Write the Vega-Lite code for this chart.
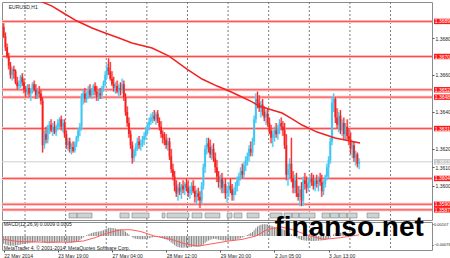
{
"$schema":"https://vega.github.io/schema/vega-lite/v6.json",
"padding":{"left":0,"top":1,"right":0,"bottom":0},
"background":"white",
"bounds":"flush",
"spacing":2,
"resolve":{"scale":{"x":"independent","y":"independent"}},
"config":{"view":{"stroke":"#8c8c8c","strokeWidth":1},"axis":{"labelFont":"Liberation Sans"},"text":{"font":"Liberation Sans"},"scale":{"continuousPadding":0}},
"datasets":{
"bars":[
{"t":1,"o":1.3686,"h":1.3688,"l":1.3680,"c":1.3681,"m":-0.0007},
{"t":2,"o":1.3681,"h":1.3683,"l":1.3673,"c":1.3675,"m":-0.00075},
{"t":3,"o":1.3675,"h":1.3677,"l":1.3669,"c":1.3670,"m":-0.0008},
{"t":4,"o":1.3670,"h":1.3672,"l":1.3663,"c":1.3665,"m":-0.00085},
{"t":5,"o":1.3665,"h":1.3667,"l":1.3658,"c":1.3660,"m":-0.00088},
{"t":6,"o":1.3660,"h":1.3664,"l":1.3657,"c":1.3663,"m":-0.00088},
{"t":7,"o":1.3663,"h":1.3665,"l":1.3658,"c":1.3662,"m":-0.00086},
{"t":8,"o":1.3662,"h":1.3663,"l":1.3655,"c":1.3656,"m":-0.00084},
{"t":9,"o":1.3656,"h":1.3659,"l":1.3652,"c":1.3654,"m":-0.00082},
{"t":10,"o":1.3654,"h":1.3657,"l":1.3652,"c":1.3655,"m":-0.0008},
{"t":11,"o":1.3655,"h":1.3660,"l":1.3653,"c":1.3659,"m":-0.00077},
{"t":12,"o":1.3659,"h":1.3661,"l":1.3654,"c":1.3656,"m":-0.00074},
{"t":13,"o":1.3656,"h":1.3658,"l":1.3650,"c":1.3652,"m":-0.00072},
{"t":14,"o":1.3652,"h":1.3654,"l":1.3648,"c":1.3651,"m":-0.0007},
{"t":15,"o":1.3651,"h":1.3655,"l":1.3649,"c":1.3653,"m":-0.00067},
{"t":16,"o":1.3653,"h":1.3655,"l":1.3648,"c":1.3650,"m":-0.00064},
{"t":17,"o":1.3650,"h":1.3653,"l":1.3646,"c":1.3652,"m":-0.00061},
{"t":18,"o":1.3652,"h":1.3656,"l":1.3650,"c":1.3655,"m":-0.00058},
{"t":19,"o":1.3655,"h":1.3657,"l":1.3651,"c":1.3652,"m":-0.00055},
{"t":20,"o":1.3652,"h":1.3655,"l":1.3647,"c":1.3649,"m":-0.00053},
{"t":21,"o":1.3649,"h":1.3653,"l":1.3647,"c":1.3651,"m":-0.0005},
{"t":22,"o":1.3651,"h":1.3654,"l":1.3648,"c":1.3650,"m":-0.00048},
{"t":23,"o":1.3650,"h":1.3652,"l":1.3644,"c":1.3646,"m":-0.00047},
{"t":24,"o":1.3646,"h":1.3648,"l":1.3618,"c":1.3622,"m":-0.00055},
{"t":25,"o":1.3622,"h":1.3630,"l":1.3620,"c":1.3628,"m":-0.0006},
{"t":26,"o":1.3628,"h":1.3632,"l":1.3623,"c":1.3625,"m":-0.00063},
{"t":27,"o":1.3625,"h":1.3633,"l":1.3623,"c":1.3631,"m":-0.00064},
{"t":28,"o":1.3631,"h":1.3635,"l":1.3628,"c":1.3633,"m":-0.00064},
{"t":29,"o":1.3633,"h":1.3636,"l":1.3629,"c":1.3630,"m":-0.00063},
{"t":30,"o":1.3630,"h":1.3634,"l":1.3627,"c":1.3632,"m":-0.00062},
{"t":31,"o":1.3632,"h":1.3635,"l":1.3628,"c":1.3629,"m":-0.0006},
{"t":32,"o":1.3629,"h":1.3633,"l":1.3627,"c":1.3632,"m":-0.00058},
{"t":33,"o":1.3632,"h":1.3636,"l":1.3630,"c":1.3634,"m":-0.00056},
{"t":34,"o":1.3634,"h":1.3637,"l":1.3631,"c":1.3636,"m":-0.00053},
{"t":35,"o":1.3636,"h":1.3638,"l":1.3630,"c":1.3632,"m":-0.00051},
{"t":36,"o":1.3632,"h":1.3636,"l":1.3629,"c":1.3634,"m":-0.0005},
{"t":37,"o":1.3634,"h":1.3636,"l":1.3626,"c":1.3628,"m":-0.00051},
{"t":38,"o":1.3628,"h":1.3630,"l":1.3620,"c":1.3622,"m":-0.00054},
{"t":39,"o":1.3622,"h":1.3626,"l":1.3619,"c":1.3624,"m":-0.00057},
{"t":40,"o":1.3624,"h":1.3626,"l":1.3618,"c":1.3620,"m":-0.00059},
{"t":41,"o":1.3620,"h":1.3623,"l":1.3617,"c":1.3621,"m":-0.0006},
{"t":42,"o":1.3621,"h":1.3624,"l":1.3618,"c":1.3619,"m":-0.00058},
{"t":43,"o":1.3619,"h":1.3624,"l":1.3618,"c":1.3623,"m":-0.00055},
{"t":44,"o":1.3623,"h":1.3627,"l":1.3621,"c":1.3626,"m":-0.0005},
{"t":45,"o":1.3626,"h":1.3631,"l":1.3624,"c":1.3630,"m":-0.00044},
{"t":46,"o":1.3630,"h":1.3634,"l":1.3627,"c":1.3632,"m":-0.00038},
{"t":47,"o":1.3632,"h":1.3650,"l":1.3630,"c":1.3648,"m":-0.00025},
{"t":48,"o":1.3648,"h":1.3652,"l":1.3644,"c":1.3650,"m":-0.00013},
{"t":49,"o":1.3650,"h":1.3653,"l":1.3645,"c":1.3647,"m":-0.00003},
{"t":50,"o":1.3647,"h":1.3651,"l":1.3645,"c":1.3650,"m":0.00006},
{"t":51,"o":1.3650,"h":1.3654,"l":1.3647,"c":1.3652,"m":0.00014},
{"t":52,"o":1.3652,"h":1.3655,"l":1.3648,"c":1.3649,"m":0.0002},
{"t":53,"o":1.3649,"h":1.3653,"l":1.3647,"c":1.3652,"m":0.00026},
{"t":54,"o":1.3652,"h":1.3655,"l":1.3649,"c":1.3654,"m":0.00032},
{"t":55,"o":1.3654,"h":1.3656,"l":1.3649,"c":1.3651,"m":0.00036},
{"t":56,"o":1.3651,"h":1.3654,"l":1.3646,"c":1.3648,"m":0.00038},
{"t":57,"o":1.3648,"h":1.3652,"l":1.3646,"c":1.3650,"m":0.0004},
{"t":58,"o":1.3650,"h":1.3653,"l":1.3647,"c":1.3649,"m":0.00042},
{"t":59,"o":1.3649,"h":1.3654,"l":1.3647,"c":1.3653,"m":0.00046},
{"t":60,"o":1.3653,"h":1.3657,"l":1.3651,"c":1.3656,"m":0.00052},
{"t":61,"o":1.3656,"h":1.3662,"l":1.3654,"c":1.3660,"m":0.0006},
{"t":62,"o":1.3660,"h":1.3666,"l":1.3658,"c":1.3664,"m":0.00068},
{"t":63,"o":1.3664,"h":1.3669,"l":1.3660,"c":1.3662,"m":0.00073},
{"t":64,"o":1.3662,"h":1.3667,"l":1.3657,"c":1.3658,"m":0.00074},
{"t":65,"o":1.3658,"h":1.3662,"l":1.3654,"c":1.3655,"m":0.00072},
{"t":66,"o":1.3655,"h":1.3659,"l":1.3651,"c":1.3653,"m":0.00069},
{"t":67,"o":1.3653,"h":1.3656,"l":1.3650,"c":1.3654,"m":0.00066},
{"t":68,"o":1.3654,"h":1.3657,"l":1.3650,"c":1.3651,"m":0.00063},
{"t":69,"o":1.3651,"h":1.3655,"l":1.3648,"c":1.3653,"m":0.0006},
{"t":70,"o":1.3653,"h":1.3656,"l":1.3649,"c":1.3652,"m":0.00058},
{"t":71,"o":1.3652,"h":1.3658,"l":1.3650,"c":1.3655,"m":0.00055},
{"t":72,"o":1.3655,"h":1.3657,"l":1.3646,"c":1.3648,"m":0.00048},
{"t":73,"o":1.3648,"h":1.3650,"l":1.3638,"c":1.3640,"m":0.00038},
{"t":74,"o":1.3640,"h":1.3643,"l":1.3632,"c":1.3634,"m":0.00026},
{"t":75,"o":1.3634,"h":1.3637,"l":1.3626,"c":1.3628,"m":0.00014},
{"t":76,"o":1.3628,"h":1.3630,"l":1.3620,"c":1.3622,"m":0.00001},
{"t":77,"o":1.3622,"h":1.3624,"l":1.3612,"c":1.3615,"m":-0.00012},
{"t":78,"o":1.3615,"h":1.3620,"l":1.3613,"c":1.3619,"m":-0.0002},
{"t":79,"o":1.3619,"h":1.3623,"l":1.3616,"c":1.3621,"m":-0.00024},
{"t":80,"o":1.3621,"h":1.3626,"l":1.3619,"c":1.3624,"m":-0.00027},
{"t":81,"o":1.3624,"h":1.3627,"l":1.3620,"c":1.3622,"m":-0.00029},
{"t":82,"o":1.3622,"h":1.3625,"l":1.3619,"c":1.3623,"m":-0.0003},
{"t":83,"o":1.3623,"h":1.3627,"l":1.3621,"c":1.3625,"m":-0.0003},
{"t":84,"o":1.3625,"h":1.3629,"l":1.3622,"c":1.3627,"m":-0.00029},
{"t":85,"o":1.3627,"h":1.3632,"l":1.3625,"c":1.3630,"m":-0.00027},
{"t":86,"o":1.3630,"h":1.3634,"l":1.3628,"c":1.3633,"m":-0.00024},
{"t":87,"o":1.3633,"h":1.3637,"l":1.3630,"c":1.3635,"m":-0.0002},
{"t":88,"o":1.3635,"h":1.3639,"l":1.3633,"c":1.3637,"m":-0.00016},
{"t":89,"o":1.3637,"h":1.3640,"l":1.3634,"c":1.3638,"m":-0.00012},
{"t":90,"o":1.3638,"h":1.3641,"l":1.3635,"c":1.3636,"m":-0.00009},
{"t":91,"o":1.3636,"h":1.3640,"l":1.3633,"c":1.3639,"m":-0.00007},
{"t":92,"o":1.3639,"h":1.3641,"l":1.3634,"c":1.3635,"m":-0.00007},
{"t":93,"o":1.3635,"h":1.3637,"l":1.3630,"c":1.3632,"m":-0.0001},
{"t":94,"o":1.3632,"h":1.3635,"l":1.3626,"c":1.3628,"m":-0.00015},
{"t":95,"o":1.3628,"h":1.3630,"l":1.3623,"c":1.3626,"m":-0.0002},
{"t":96,"o":1.3626,"h":1.3629,"l":1.3622,"c":1.3625,"m":-0.00026},
{"t":97,"o":1.3625,"h":1.3628,"l":1.3620,"c":1.3622,"m":-0.00032},
{"t":98,"o":1.3622,"h":1.3626,"l":1.3619,"c":1.3624,"m":-0.00038},
{"t":99,"o":1.3624,"h":1.3626,"l":1.3614,"c":1.3616,"m":-0.00047},
{"t":100,"o":1.3616,"h":1.3620,"l":1.3607,"c":1.3609,"m":-0.00058},
{"t":101,"o":1.3609,"h":1.3612,"l":1.3603,"c":1.3605,"m":-0.0007},
{"t":102,"o":1.3605,"h":1.3608,"l":1.3597,"c":1.3600,"m":-0.00082},
{"t":103,"o":1.3600,"h":1.3603,"l":1.3594,"c":1.3596,"m":-0.00092},
{"t":104,"o":1.3596,"h":1.3601,"l":1.3592,"c":1.3599,"m":-0.00098},
{"t":105,"o":1.3599,"h":1.3602,"l":1.3595,"c":1.3597,"m":-0.00102},
{"t":106,"o":1.3597,"h":1.3601,"l":1.3593,"c":1.3600,"m":-0.00104},
{"t":107,"o":1.3600,"h":1.3603,"l":1.3596,"c":1.3598,"m":-0.00104},
{"t":108,"o":1.3598,"h":1.3602,"l":1.3595,"c":1.3601,"m":-0.00103},
{"t":109,"o":1.3601,"h":1.3604,"l":1.3597,"c":1.3599,"m":-0.00102},
{"t":110,"o":1.3599,"h":1.3603,"l":1.3594,"c":1.3596,"m":-0.00101},
{"t":111,"o":1.3596,"h":1.3600,"l":1.3593,"c":1.3598,"m":-0.001},
{"t":112,"o":1.3598,"h":1.3602,"l":1.3595,"c":1.3600,"m":-0.00098},
{"t":113,"o":1.3600,"h":1.3603,"l":1.3596,"c":1.3597,"m":-0.00096},
{"t":114,"o":1.3597,"h":1.3600,"l":1.3591,"c":1.3594,"m":-0.00096},
{"t":115,"o":1.3594,"h":1.3598,"l":1.3590,"c":1.3596,"m":-0.00095},
{"t":116,"o":1.3596,"h":1.3599,"l":1.3592,"c":1.3594,"m":-0.00094},
{"t":117,"o":1.3594,"h":1.3597,"l":1.3588,"c":1.3592,"m":-0.00094},
{"t":118,"o":1.3592,"h":1.3602,"l":1.3590,"c":1.3600,"m":-0.00087},
{"t":119,"o":1.3600,"h":1.3612,"l":1.3598,"c":1.3610,"m":-0.00076},
{"t":120,"o":1.3610,"h":1.3622,"l":1.3607,"c":1.3620,"m":-0.00062},
{"t":121,"o":1.3620,"h":1.3626,"l":1.3617,"c":1.3623,"m":-0.0005},
{"t":122,"o":1.3623,"h":1.3626,"l":1.3618,"c":1.3621,"m":-0.0004},
{"t":123,"o":1.3621,"h":1.3625,"l":1.3615,"c":1.3617,"m":-0.00034},
{"t":124,"o":1.3617,"h":1.3622,"l":1.3614,"c":1.3620,"m":-0.00028},
{"t":125,"o":1.3620,"h":1.3623,"l":1.3613,"c":1.3615,"m":-0.00025},
{"t":126,"o":1.3615,"h":1.3618,"l":1.3607,"c":1.3610,"m":-0.00026},
{"t":127,"o":1.3610,"h":1.3614,"l":1.3602,"c":1.3605,"m":-0.0003},
{"t":128,"o":1.3605,"h":1.3608,"l":1.3599,"c":1.3602,"m":-0.00034},
{"t":129,"o":1.3602,"h":1.3606,"l":1.3598,"c":1.3604,"m":-0.00036},
{"t":130,"o":1.3604,"h":1.3607,"l":1.3596,"c":1.3599,"m":-0.00038},
{"t":131,"o":1.3599,"h":1.3603,"l":1.3596,"c":1.3601,"m":-0.0004},
{"t":132,"o":1.3601,"h":1.3604,"l":1.3593,"c":1.3596,"m":-0.00042},
{"t":133,"o":1.3596,"h":1.3600,"l":1.3591,"c":1.3598,"m":-0.00043},
{"t":134,"o":1.3598,"h":1.3602,"l":1.3594,"c":1.3600,"m":-0.00042},
{"t":135,"o":1.3600,"h":1.3604,"l":1.3596,"c":1.3598,"m":-0.00041},
{"t":136,"o":1.3598,"h":1.3601,"l":1.3592,"c":1.3595,"m":-0.0004},
{"t":137,"o":1.3595,"h":1.3599,"l":1.3592,"c":1.3597,"m":-0.00038},
{"t":138,"o":1.3597,"h":1.3602,"l":1.3595,"c":1.3600,"m":-0.00035},
{"t":139,"o":1.3600,"h":1.3605,"l":1.3597,"c":1.3603,"m":-0.0003},
{"t":140,"o":1.3603,"h":1.3607,"l":1.3600,"c":1.3605,"m":-0.00025},
{"t":141,"o":1.3605,"h":1.3610,"l":1.3603,"c":1.3608,"m":-0.00019},
{"t":142,"o":1.3608,"h":1.3612,"l":1.3604,"c":1.3606,"m":-0.00013},
{"t":143,"o":1.3606,"h":1.3613,"l":1.3604,"c":1.3611,"m":-0.00006},
{"t":144,"o":1.3611,"h":1.3616,"l":1.3608,"c":1.3614,"m":0.00002},
{"t":145,"o":1.3614,"h":1.3618,"l":1.3611,"c":1.3616,"m":0.0001},
{"t":146,"o":1.3616,"h":1.3622,"l":1.3613,"c":1.3620,"m":0.00018},
{"t":147,"o":1.3620,"h":1.3624,"l":1.3616,"c":1.3618,"m":0.00026},
{"t":148,"o":1.3618,"h":1.3626,"l":1.3616,"c":1.3624,"m":0.00036},
{"t":149,"o":1.3624,"h":1.3638,"l":1.3622,"c":1.3636,"m":0.00052},
{"t":150,"o":1.3636,"h":1.3650,"l":1.3634,"c":1.3647,"m":0.0007},
{"t":151,"o":1.3647,"h":1.3651,"l":1.3642,"c":1.3645,"m":0.00084},
{"t":152,"o":1.3645,"h":1.3649,"l":1.3640,"c":1.3642,"m":0.00094},
{"t":153,"o":1.3642,"h":1.3646,"l":1.3637,"c":1.3644,"m":0.00101},
{"t":154,"o":1.3644,"h":1.3647,"l":1.3638,"c":1.3640,"m":0.00105},
{"t":155,"o":1.3640,"h":1.3643,"l":1.3635,"c":1.3637,"m":0.00106},
{"t":156,"o":1.3637,"h":1.3641,"l":1.3633,"c":1.3639,"m":0.00105},
{"t":157,"o":1.3639,"h":1.3642,"l":1.3632,"c":1.3634,"m":0.00102},
{"t":158,"o":1.3634,"h":1.3637,"l":1.3628,"c":1.3630,"m":0.00098},
{"t":159,"o":1.3630,"h":1.3633,"l":1.3623,"c":1.3626,"m":0.00092},
{"t":160,"o":1.3626,"h":1.3630,"l":1.3621,"c":1.3628,"m":0.00086},
{"t":161,"o":1.3628,"h":1.3632,"l":1.3624,"c":1.3630,"m":0.0008},
{"t":162,"o":1.3630,"h":1.3634,"l":1.3626,"c":1.3628,"m":0.00075},
{"t":163,"o":1.3628,"h":1.3633,"l":1.3625,"c":1.3631,"m":0.00071},
{"t":164,"o":1.3631,"h":1.3636,"l":1.3628,"c":1.3634,"m":0.00068},
{"t":165,"o":1.3634,"h":1.3637,"l":1.3630,"c":1.3632,"m":0.00064},
{"t":166,"o":1.3632,"h":1.3635,"l":1.3627,"c":1.3630,"m":0.0006},
{"t":167,"o":1.3630,"h":1.3634,"l":1.3620,"c":1.3622,"m":0.00054},
{"t":168,"o":1.3622,"h":1.3628,"l":1.3603,"c":1.3606,"m":0.00044},
{"t":169,"o":1.3606,"h":1.3612,"l":1.3600,"c":1.3609,"m":0.00034},
{"t":170,"o":1.3609,"h":1.3615,"l":1.3604,"c":1.3612,"m":0.00026},
{"t":171,"o":1.3612,"h":1.3626,"l":1.3602,"c":1.3604,"m":0.00016},
{"t":172,"o":1.3604,"h":1.3608,"l":1.3596,"c":1.3599,"m":0.00005},
{"t":173,"o":1.3599,"h":1.3606,"l":1.3596,"c":1.3603,"m":-0.00005},
{"t":174,"o":1.3603,"h":1.3607,"l":1.3594,"c":1.3596,"m":-0.00014},
{"t":175,"o":1.3596,"h":1.3600,"l":1.3592,"c":1.3594,"m":-0.00022},
{"t":176,"o":1.3594,"h":1.3600,"l":1.3589,"c":1.3598,"m":-0.00028},
{"t":177,"o":1.3598,"h":1.3602,"l":1.3589,"c":1.3592,"m":-0.00036},
{"t":178,"o":1.3592,"h":1.3605,"l":1.3589,"c":1.3603,"m":-0.00038},
{"t":179,"o":1.3603,"h":1.3607,"l":1.3598,"c":1.3601,"m":-0.0004},
{"t":180,"o":1.3601,"h":1.3605,"l":1.3596,"c":1.3599,"m":-0.00042},
{"t":181,"o":1.3599,"h":1.3604,"l":1.3597,"c":1.3602,"m":-0.00043},
{"t":182,"o":1.3602,"h":1.3606,"l":1.3599,"c":1.3604,"m":-0.00044},
{"t":183,"o":1.3604,"h":1.3607,"l":1.3600,"c":1.3602,"m":-0.00044},
{"t":184,"o":1.3602,"h":1.3606,"l":1.3598,"c":1.3600,"m":-0.00044},
{"t":185,"o":1.3600,"h":1.3604,"l":1.3597,"c":1.3603,"m":-0.00044},
{"t":186,"o":1.3603,"h":1.3606,"l":1.3599,"c":1.3601,"m":-0.00043},
{"t":187,"o":1.3601,"h":1.3605,"l":1.3597,"c":1.3604,"m":-0.00042},
{"t":188,"o":1.3604,"h":1.3607,"l":1.3600,"c":1.3602,"m":-0.00041},
{"t":189,"o":1.3602,"h":1.3606,"l":1.3594,"c":1.3597,"m":-0.0004},
{"t":190,"o":1.3597,"h":1.3603,"l":1.3595,"c":1.3601,"m":-0.00038},
{"t":191,"o":1.3601,"h":1.3606,"l":1.3599,"c":1.3605,"m":-0.00035},
{"t":192,"o":1.3605,"h":1.3612,"l":1.3603,"c":1.3610,"m":-0.0003},
{"t":193,"o":1.3610,"h":1.3616,"l":1.3604,"c":1.3614,"m":-0.00024},
{"t":194,"o":1.3614,"h":1.3626,"l":1.3612,"c":1.3624,"m":-0.00014},
{"t":195,"o":1.3624,"h":1.3648,"l":1.3622,"c":1.3645,"m":0.00002},
{"t":196,"o":1.3645,"h":1.3650,"l":1.3640,"c":1.3647,"m":0.00016},
{"t":197,"o":1.3647,"h":1.3648,"l":1.3634,"c":1.3637,"m":0.00024},
{"t":198,"o":1.3637,"h":1.3642,"l":1.3631,"c":1.3633,"m":0.00028},
{"t":199,"o":1.3633,"h":1.3640,"l":1.3629,"c":1.3638,"m":0.0003},
{"t":200,"o":1.3638,"h":1.3641,"l":1.3628,"c":1.3630,"m":0.0003},
{"t":201,"o":1.3630,"h":1.3636,"l":1.3627,"c":1.3634,"m":0.00029},
{"t":202,"o":1.3634,"h":1.3637,"l":1.3625,"c":1.3628,"m":0.00027},
{"t":203,"o":1.3628,"h":1.3634,"l":1.3625,"c":1.3632,"m":0.00025},
{"t":204,"o":1.3632,"h":1.3636,"l":1.3625,"c":1.3627,"m":0.00022},
{"t":205,"o":1.3627,"h":1.3631,"l":1.3622,"c":1.3625,"m":0.00019},
{"t":206,"o":1.3625,"h":1.3629,"l":1.3617,"c":1.3620,"m":0.00015},
{"t":207,"o":1.3620,"h":1.3624,"l":1.3615,"c":1.3622,"m":0.00011},
{"t":208,"o":1.3622,"h":1.3624,"l":1.3613,"c":1.3615,"m":0.00007},
{"t":209,"o":1.3615,"h":1.3619,"l":1.3611,"c":1.3617,"m":0.00004},
{"t":210,"o":1.3617,"h":1.3618,"l":1.3610,"c":1.3612,"m":0.0},
{"t":211,"o":1.3612,"h":1.3615,"l":1.3609,"c":1.3613,"m":-0.00003}
],
"levels":[{"p":1.3689},{"p":1.367},{"p":1.3652},{"p":1.3648},{"p":1.3631},{"p":1.3604},{"p":1.359},{"p":1.3587}],
"cur":[{"p":1.3613}],
"grid":[{"g":13.6},{"g":37.6},{"g":61.6},{"g":85.6},{"g":109.6},{"g":133.6},{"g":157.6},{"g":181.6},{"g":205.6},{"g":229.6}],
"trades":[{"s":39.6,"e":44.3},{"s":44.5,"e":53.2},{"s":69.7,"e":75.1},{"s":76.8,"e":86.9},{"s":94.6,"e":96.3},{"s":97.5,"e":110.5},{"s":112.3,"e":118.2},{"s":120,"e":128.8},{"s":133,"e":135.9},{"s":137.1,"e":141.8},{"s":144.8,"e":151.9},{"s":158.4,"e":165.5},{"s":166.7,"e":171.2},{"s":171.6,"e":175.3},{"s":175.7,"e":185},{"s":189.1,"e":193.7},{"s":194.1,"e":199},{"s":199.4,"e":203.7},{"s":204.1,"e":209.8},{"s":215.7,"e":222.8}],
"ma":[{"t":0,"p":1.37135},{"t":14.8,"p":1.37043},{"t":22.5,"p":1.37},{"t":29.6,"p":1.36973},{"t":37.2,"p":1.3693},{"t":44.3,"p":1.36892},{"t":53.2,"p":1.36854},{"t":60.9,"p":1.36827},{"t":69.1,"p":1.368},{"t":76.8,"p":1.36773},{"t":88.7,"p":1.36746},{"t":98.7,"p":1.36702},{"t":109.3,"p":1.36632},{"t":118.2,"p":1.36578},{"t":127.1,"p":1.3654},{"t":134.2,"p":1.36513},{"t":141.8,"p":1.36481},{"t":147.8,"p":1.36454},{"t":151.9,"p":1.36432},{"t":159.6,"p":1.3641},{"t":165.5,"p":1.36394},{"t":171.4,"p":1.36362},{"t":177.3,"p":1.36329},{"t":186.2,"p":1.36291},{"t":196.8,"p":1.36259},{"t":205.7,"p":1.36243},{"t":211.6,"p":1.36232}],
"sig":[{"t":1,"s":-0.0003},{"t":10,"s":-0.0005},{"t":25,"s":-0.00055},{"t":40,"s":-0.00055},{"t":48,"s":-0.00045},{"t":55,"s":-0.00015},{"t":62,"s":0.00025},{"t":70,"s":0.00055},{"t":76,"s":0.00056},{"t":82,"s":0.0004},{"t":90,"s":0},{"t":100,"s":-0.0003},{"t":108,"s":-0.0007},{"t":116,"s":-0.0009},{"t":124,"s":-0.0007},{"t":134,"s":-0.00045},{"t":142,"s":-0.0003},{"t":150,"s":0},{"t":157,"s":0.0006},{"t":165,"s":0.0008},{"t":172,"s":0.00055},{"t":180,"s":0.0001},{"t":190,"s":-0.0003},{"t":200,"s":-0.00015},{"t":211,"s":0.0001}]
},
"vconcat":[
{
"width":430,"height":218,
"layer":[
{"data":{"name":"grid"},"mark":{"type":"rule","color":"#7a7a7a","strokeDash":[2,2],"strokeWidth":1},
 "encoding":{"x":{"field":"g","type":"quantitative","scale":{"domain":[0,254.1],"nice":false,"zero":false,"padding":0},"axis":null}}},
{"data":{"name":"levels"},"mark":{"type":"rule","color":"#FFBDBD","strokeWidth":3},
 "encoding":{"y":{"field":"p","type":"quantitative","scale":{"domain":[1.35815,1.36995],"nice":false,"zero":false,"padding":0},
  "axis":{"orient":"right","values":[1.36,1.361,1.362,1.364,1.366,1.368],"format":".4f","labelFontSize":5,"tickSize":2,"labelPadding":1,"grid":false,"domain":false,"title":null,"tickColor":"#555","labelColor":"#222"}}}},
{"data":{"name":"levels"},"mark":{"type":"rule","color":"#FF4A4A","strokeWidth":1},
 "encoding":{"y":{"field":"p","type":"quantitative"}}},
{"data":{"name":"cur"},"mark":{"type":"rule","color":"#CFCFCF","strokeWidth":1},
 "encoding":{"y":{"field":"p","type":"quantitative"}}},
{"data":{"name":"trades"},"mark":{"type":"rect","fill":"#CDD3D3","stroke":"#6E6E6E","strokeWidth":0.5},
 "encoding":{"x":{"field":"s","type":"quantitative"},"x2":{"field":"e"},"y":{"datum":1.35853,"type":"quantitative"},"y2":{"datum":1.35826}}},
{"data":{"name":"bars"},"mark":{"type":"rule","strokeWidth":2.6,"opacity":0.45},
 "encoding":{"x":{"field":"t","type":"quantitative"},"y":{"field":"l","type":"quantitative"},"y2":{"field":"h"},
  "color":{"condition":{"test":"datum.c>=datum.o","value":"#8FDCF7"},"value":"#FF8A8A"}}},
{"data":{"name":"bars"},"mark":{"type":"rule","strokeWidth":1},
 "encoding":{"x":{"field":"t","type":"quantitative"},"y":{"field":"l","type":"quantitative"},"y2":{"field":"h"},
  "color":{"condition":{"test":"datum.c>=datum.o","value":"#3EC6F2"},"value":"#F52020"}}},
{"data":{"name":"bars"},"mark":{"type":"bar","width":1.8},
 "encoding":{"x":{"field":"t","type":"quantitative"},"y":{"field":"o","type":"quantitative"},"y2":{"field":"c"},
  "color":{"condition":{"test":"datum.c>=datum.o","value":"#3EC6F2"},"value":"#F52020"}}},
{"data":{"name":"ma"},"mark":{"type":"line","color":"#F22222","strokeWidth":1.5,"clip":true},
 "encoding":{"x":{"field":"t","type":"quantitative"},"y":{"field":"p","type":"quantitative"}}},
{"data":{"name":"levels"},"mark":{"type":"point","shape":"M-1,-0.32L1,-0.32L1,0.32L-1,0.32Z","filled":true,"size":289,"color":"#FF1A1A","opacity":1,"strokeWidth":0},
 "encoding":{"x":{"datum":260.3,"type":"quantitative"},"y":{"field":"p","type":"quantitative"}}},
{"data":{"name":"levels"},"mark":{"type":"text","fontSize":5,"color":"white","align":"center","baseline":"middle"},
 "encoding":{"x":{"datum":260.3,"type":"quantitative"},"y":{"field":"p","type":"quantitative"},"text":{"field":"p","type":"quantitative","format":".4f"}}},
{"data":{"name":"cur"},"mark":{"type":"point","shape":"M-1,-0.32L1,-0.32L1,0.32L-1,0.32Z","filled":true,"size":289,"color":"#C4C4C4","opacity":1,"strokeWidth":0},
 "encoding":{"x":{"datum":260.3,"type":"quantitative"},"y":{"field":"p","type":"quantitative"}}},
{"data":{"name":"cur"},"mark":{"type":"text","fontSize":5,"color":"white","align":"center","baseline":"middle"},
 "encoding":{"x":{"datum":260.3,"type":"quantitative"},"y":{"field":"p","type":"quantitative"},"text":{"field":"p","type":"quantitative","format":".4f"}}},
{"data":{"values":[{"txt":"EURUSD,H1"}]},"mark":{"type":"text","fontSize":5,"color":"#222","align":"left","baseline":"middle"},
 "encoding":{"x":{"datum":4,"type":"quantitative"},"y":{"datum":1.3697,"type":"quantitative"},"text":{"field":"txt"}}}
]
},
{
"width":430,"height":28,
"layer":[
{"data":{"name":"grid"},"mark":{"type":"rule","color":"#7a7a7a","strokeDash":[2,2],"strokeWidth":1},
 "encoding":{"x":{"field":"g","type":"quantitative","scale":{"domain":[0,254.1],"nice":false,"zero":false,"padding":0},
  "axis":{"values":[1,17,33,49,65,81,97,113,129,145,161,177,193,209],"labelExpr":"['22 May 2014','23 May 03:00','23 May 19:00','26 May 12:00','27 May 04:00','27 May 20:00','28 May 12:00','29 May 04:00','29 May 20:00','30 May 12:00','2 Jun 05:00','2 Jun 21:00','3 Jun 13:00','4 Jun 05:00'][round((datum.value-1)/16)]","labelAlign":"left","labelFontSize":5,"labelPadding":1,"tickSize":2,"grid":false,"domain":false,"title":null,"labelOverlap":false,"labelBound":false,"labelFlush":false,"tickColor":"#555","labelColor":"#222"}}}},
{"data":{"name":"bars"},"mark":{"type":"bar","width":1,"color":"#858585"},
 "encoding":{"x":{"field":"t","type":"quantitative"},"y":{"field":"m","type":"quantitative","scale":{"domain":[-0.00125,0.00125],"nice":false,"zero":false,"padding":0},
  "axis":{"orient":"right","values":[0.00107,0,-0.00076],"labelExpr":"datum.value==0?'0.0000':format(datum.value,'.5f')","labelFontSize":4,"tickSize":1,"labelPadding":0.5,"grid":false,"domain":false,"title":null,"tickColor":"#555","labelColor":"#222"}},"y2":{"datum":0}}},
{"data":{"name":"sig"},"mark":{"type":"line","color":"#FF5A5A","strokeWidth":1},
 "encoding":{"x":{"field":"t","type":"quantitative"},"y":{"field":"s","type":"quantitative"}}},
{"data":{"values":[{"txt":"MACD(12,26,9) 0.0009 0.0005"}]},"mark":{"type":"text","fontSize":5,"color":"#222","align":"left","baseline":"middle"},
 "encoding":{"x":{"datum":1,"type":"quantitative"},"y":{"datum":0.00104,"type":"quantitative"},"text":{"field":"txt"}}},
{"data":{"values":[{"txt":"MetaTrader 4, © 2001-2014, MetaQuotes Software Corp."}]},"mark":{"type":"text","fontSize":5,"color":"#222","align":"left","baseline":"middle"},
 "encoding":{"x":{"datum":1,"type":"quantitative"},"y":{"datum":-0.00104,"type":"quantitative"},"text":{"field":"txt"}}},
{"data":{"values":[{"txt":"finanso.net"}]},"mark":{"type":"text","fontSize":28,"fontWeight":"bold","color":"#000","align":"left","baseline":"alphabetic","font":"Liberation Sans"},
 "encoding":{"x":{"datum":161,"type":"quantitative"},"y":{"datum":0.0,"type":"quantitative"},"text":{"field":"txt"}}}
]
}
]
}
